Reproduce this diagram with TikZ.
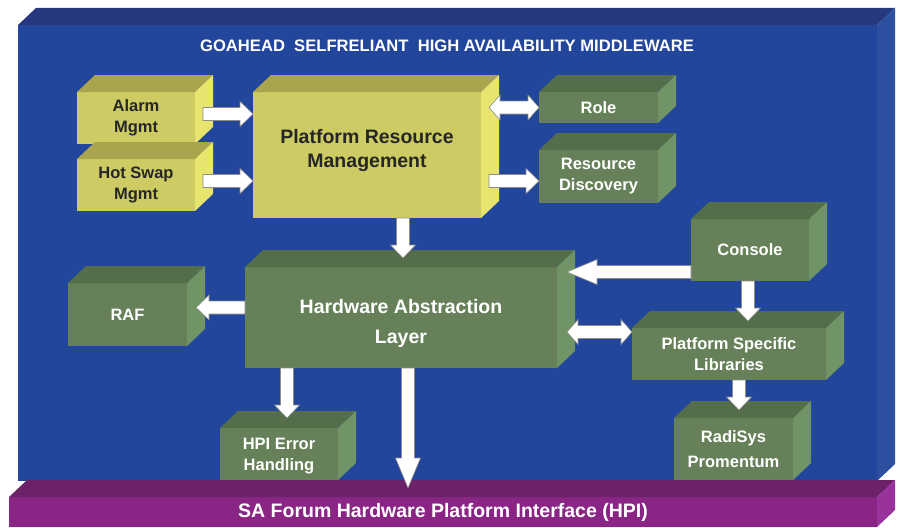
\documentclass[tikz,border=0pt]{standalone}
\usepackage{fontspec}
\setmainfont{Liberation Sans}
\usetikzlibrary{calc}

\definecolor{blufront}{HTML}{22469B}
\definecolor{blutop}{HTML}{263880}
\definecolor{bluside}{HTML}{2C4FA0}
\definecolor{purfront}{HTML}{8A2585}
\definecolor{purtop}{HTML}{6B2268}
\definecolor{purside}{HTML}{97339A}
\definecolor{grnfront}{HTML}{66815A}
\definecolor{grntop}{HTML}{546D4B}
\definecolor{grnside}{HTML}{719466}
\definecolor{ylwfront}{HTML}{CDCB64}
\definecolor{ylwtop}{HTML}{A9A54E}
\definecolor{ylwside}{HTML}{E7E56E}
\definecolor{arrline}{HTML}{8C8C8C}

\tikzset{
  face/.style={inner sep=0pt, outer sep=0pt, align=center,
    font=\bfseries\fontsize{16.5}{21}\selectfont},
  bfront/.style={face, fill=blufront}, btop/.style={fill=blutop}, bside/.style={fill=bluside},
  pfront/.style={face, fill=purfront, text=white}, ptop/.style={fill=purtop}, pside/.style={fill=purside},
  gfront/.style={face, fill=grnfront, text=white}, gtop/.style={fill=grntop}, gside/.style={fill=grnside},
  yfront/.style={face, fill=ylwfront, text=black!85}, ytop/.style={fill=ylwtop}, yside/.style={fill=ylwside},
  arr/.style={fill=white, draw=arrline, line width=0.6pt, line join=miter},
  bigtext/.style={font=\bfseries\fontsize{19.5}{24}\selectfont},
}

% 3-D box: [extra node options]{name}{x1}{y1}{x2}{y2}{palette}{label}
% (x1,y1)-(x2,y2) is the front face; top and right faces recede by (18,17)
\newcommand\cube[8][]{%
  \node[#7front, minimum width={(#5-#3)*1pt}, minimum height={(#6-#4)*1pt}, #1]
    (#2) at ({(#3+#5)/2},{(#4+#6)/2}) {#8};
  \fill[#7top] (#2.north west) -- ++(18,-17) -- ($(#2.north east)+(18,-17)$)
    -- (#2.north east) -- cycle;
  \fill[#7side] (#2.north east) -- ++(18,-17) -- ($(#2.south east)+(18,-17)$)
    -- (#2.south east) -- cycle;
}

% block arrow: [head length]{start}{tip}
\newcommand\blockarrow[3][13]{%
  \coordinate (ba-a) at #2;
  \coordinate (ba-b) at #3;
  \coordinate (ba-h) at ($(ba-b)!#1pt!(ba-a)$);
  \draw[arr] ($(ba-a)!6.5pt!90:(ba-b)$) -- ($(ba-h)!6.5pt!-90:(ba-a)$)
    -- ($(ba-h)!12.5pt!-90:(ba-a)$) -- (ba-b) -- ($(ba-h)!12.5pt!90:(ba-a)$)
    -- ($(ba-h)!6.5pt!90:(ba-a)$) -- ($(ba-a)!6.5pt!-90:(ba-b)$) -- cycle;
}

% double-headed block arrow: [head length]{tip}{tip}
\newcommand\dblarrow[3][11]{%
  \coordinate (ba-a) at #2;
  \coordinate (ba-b) at #3;
  \coordinate (ba-h1) at ($(ba-a)!#1pt!(ba-b)$);
  \coordinate (ba-h2) at ($(ba-b)!#1pt!(ba-a)$);
  \draw[arr] (ba-a) -- ($(ba-h1)!12.5pt!90:(ba-b)$) -- ($(ba-h1)!6.5pt!90:(ba-b)$)
    -- ($(ba-h2)!6.5pt!-90:(ba-a)$) -- ($(ba-h2)!12.5pt!-90:(ba-a)$) -- (ba-b)
    -- ($(ba-h2)!12.5pt!90:(ba-a)$) -- ($(ba-h2)!6.5pt!90:(ba-a)$)
    -- ($(ba-h1)!6.5pt!-90:(ba-b)$) -- ($(ba-h1)!12.5pt!-90:(ba-b)$) -- cycle;
}

\begin{document}
\begin{tikzpicture}[x=1pt, y=-1pt]
  \useasboundingbox (0,0) rectangle (901,527);

  % enclosing middleware block and HPI base
  \cube{mw}{18}{25}{877}{481}{b}{}
  \node[font=\bfseries\fontsize{16.6}{19}\selectfont, text=white] (title) at (447,45.5)
    {GOAHEAD\ \ SELFRELIANT\ \ HIGH AVAILABILITY MIDDLEWARE};
  \cube[bigtext]{hpi}{9}{497}{877}{527}{p}{SA Forum Hardware Platform Interface (HPI)}

  % components
  \cube{alarm}{77}{92}{195}{144}{y}{Alarm\\Mgmt}
  \cube{hotswap}{77}{159}{195}{211}{y}{Hot Swap\\Mgmt}
  \cube[bigtext]{prm}{253}{92}{481}{218}{y}{Platform Resource\\Management\\[-10pt]}
  \cube{role}{539}{92}{658}{123}{g}{Role}
  \cube{rd}{539}{150}{658}{203}{g}{Resource\\Discovery}
  \cube{console}{691}{219}{809}{281}{g}{Console}
  \cube[bigtext]{hal}{245}{267}{557}{368}{g}{\rule{0pt}{27pt}Hardware Abstraction\\[6pt]Layer}
  \cube{raf}{68}{283}{187}{346}{g}{RAF}
  \cube{psl}{632}{328}{826}{380}{g}{Platform Specific\\Libraries}
  \cube{radisys}{674}{418}{793}{480}{g}{RadiSys\\[4pt]Promentum}
  \cube{hpierr}{220}{428}{338}{480}{g}{\rule{0pt}{16pt}HPI Error\\Handling}

  % connectors
  \blockarrow{($(alarm.east)+(8,-4)$)}{(ba-a -| prm.west)}
  \blockarrow{($(hotswap.east)+(8,-4)$)}{(ba-a -| prm.west)}
  \dblarrow{($(role.west -| prm.east)+(8,0)$)}{(role.west)}
  \blockarrow{($(prm.east)+(8,26)$)}{(ba-a -| rd.west)}
  \blockarrow{($(prm.south)+(36,0)$)}{($(ba-a |- hal.north)+(0,-9)$)}
  \blockarrow[30]{($(console.west)+(0,22)$)}{($(ba-a -| hal.east)+(10,0)$)}
  \blockarrow{($(console.south)+(-2,0)$)}{($(ba-a |- psl.north)+(0,-7)$)}
  \dblarrow{($(hal.east)+(10,14.5)$)}{(ba-a -| psl.west)}
  \blockarrow{($(hal.west)+(0,-10)$)}{($(ba-a -| raf.east)+(9,0)$)}
  \blockarrow{($(hal.south west)+(42,0)$)}{($(ba-a |- hpierr.north)+(0,-10)$)}
  \blockarrow[30]{($(hal.south)+(7,0)$)}{($(ba-a |- hpi.north)+(0,-9)$)}
  \blockarrow{($(psl.south)+(10,0)$)}{($(ba-a |- radisys.north)+(0,-8)$)}
\end{tikzpicture}
\end{document}
